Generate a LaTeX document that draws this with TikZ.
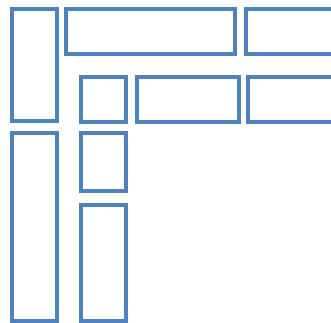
\documentclass[tikz,border=0pt]{standalone}
\usetikzlibrary{positioning}
\definecolor{boxblue}{HTML}{4F81BD}
\tikzset{
    panel/.style={draw=boxblue, line width=4pt, inner sep=0pt, outer sep=0pt, fill=none}
}
\begin{document}
\begin{tikzpicture}[x=1pt, y=-1pt]
    \useasboundingbox (0,0) rectangle (331,322);
    \clip (0,0) rectangle (331,322);

    % Colonne de gauche
    \node[panel, minimum width=45.5pt, minimum height=112pt] (hautgauche) at (34.25,65) {};
    \node[panel, minimum width=45.5pt, minimum height=187.5pt] (basgauche) at (34.25,226.75) {};

    % Rangee du haut
    \node[panel, minimum width=169pt, minimum height=45pt] (hautmilieu) at (150,31.5) {};
    \node[panel, minimum width=120pt, minimum height=45pt] (hautdroite) at (305.5,31.5) {};

    % Rangee du milieu
    \node[panel, minimum width=45.5pt, minimum height=45pt] (carre) at (103.25,99.5) {};
    \node[panel, minimum width=101.5pt, minimum height=45pt] (milieu) at (187.75,99.5) {};
    \node[panel, minimum width=120pt, minimum height=45pt] (milieudroite) at (308,99.5) {};

    % Colonne interieure
    \node[panel, minimum width=45.5pt, minimum height=58pt] (petit) at (103.25,162) {};
    \node[panel, minimum width=45.5pt, minimum height=115.5pt] (long) at (103.25,262.75) {};
\end{tikzpicture}
\end{document}
